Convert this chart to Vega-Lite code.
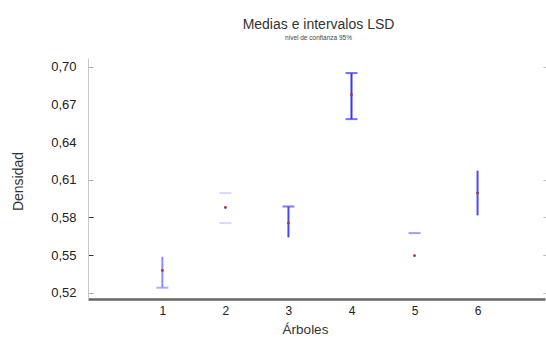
{
  "$schema": "https://vega.github.io/schema/vega-lite/v6.json",
  "autosize": "none",
  "width": 457,
  "height": 241,
  "padding": {"left": 88, "top": 58, "right": 1, "bottom": 43},
  "background": "white",
  "title": {
    "text": "Medias e intervalos LSD",
    "subtitle": "nivel de confianza 95%",
    "anchor": "middle",
    "dx": 2,
    "font": "Liberation Sans",
    "fontSize": 14,
    "fontWeight": "normal",
    "color": "#333333",
    "subtitleFont": "Liberation Sans",
    "subtitleFontSize": 6.5,
    "subtitleColor": "#444444",
    "subtitlePadding": 3,
    "offset": 17
  },
  "datasets": {
    "segmentos": [
      {"arbol": 1, "inferior": 0.524, "superior": 0.5487},
      {"arbol": 3, "inferior": 0.5641, "superior": 0.5887},
      {"arbol": 4, "inferior": 0.6583, "superior": 0.695},
      {"arbol": 6, "inferior": 0.5816, "superior": 0.6172}
    ],
    "tapas": [
      {"arbol": 1, "valor": 0.524},
      {"arbol": 2, "valor": 0.5994},
      {"arbol": 2, "valor": 0.5755},
      {"arbol": 3, "valor": 0.5887},
      {"arbol": 4, "valor": 0.695},
      {"arbol": 4, "valor": 0.6583},
      {"arbol": 5, "valor": 0.5675}
    ],
    "medias": [
      {"arbol": 1, "media": 0.5378},
      {"arbol": 2, "media": 0.5879},
      {"arbol": 3, "media": 0.5755},
      {"arbol": 4, "media": 0.6777},
      {"arbol": 5, "media": 0.5495},
      {"arbol": 6, "media": 0.5994}
    ]
  },
  "layer": [
    {
      "data": {"name": "segmentos"},
      "mark": {"type": "rule", "strokeWidth": 2},
      "encoding": {
        "x": {
          "field": "arbol", "type": "quantitative",
          "scale": {"domain": [-0.18, 7.07], "nice": false, "zero": false},
          "axis": {
            "title": "Árboles", "values": [1, 2, 3, 4, 5, 6], "format": "d",
            "grid": false, "ticks": false,
            "domainColor": "#666666", "domainWidth": 2.5,
            "labelFont": "Liberation Sans", "labelFontSize": 12, "labelColor": "#222222",
            "labelPadding": 6,
            "titleFont": "Liberation Sans", "titleFontSize": 13.5, "titleFontWeight": "normal",
            "titleColor": "#333333", "titlePadding": 6, "titleX": 217
          }
        },
        "y": {
          "field": "inferior", "type": "quantitative",
          "scale": {"domain": [0.515, 0.707], "nice": false, "zero": false},
          "axis": {
            "title": "Densidad", "values": [0.52, 0.55, 0.58, 0.61, 0.64, 0.67, 0.70],
            "labelExpr": "replace(format(datum.value, '.2f'), '.', ',')",
            "grid": false,
            "domainColor": "#c8c8c8", "domainWidth": 1,
            "tickColor": {"condition": {"test": "datum.value == 0.58 || datum.value == 0.55", "value": "#333333"}, "value": "#aaaaaa"},
            "tickOpacity": {"condition": {"test": "datum.value == 0.64 || datum.value == 0.67", "value": 0}, "value": 1},
            "tickSize": -5,
            "labelFont": "Liberation Sans", "labelFontSize": 13, "labelColor": "#222222",
            "labelPadding": 17,
            "titleFont": "Liberation Sans", "titleFontSize": 14, "titleFontWeight": "normal",
            "titleColor": "#333333", "titleX": -70, "titleY": 123,
            "titleAngle": -90, "titleAlign": "center", "titleBaseline": "middle"
          }
        },
        "y2": {"field": "superior"},
        "color": {
          "field": "arbol", "type": "nominal",
          "scale": {"domain": [1, 2, 3, 4, 5, 6], "range": ["#8c8cff", "#c8c8ff", "#4646ff", "#3535ff", "#7575ff", "#4a4aff"]},
          "legend": null
        }
      }
    },
    {
      "data": {"name": "tapas"},
      "mark": {"type": "tick", "orient": "horizontal", "size": 12, "thickness": 2},
      "encoding": {
        "x": {"field": "arbol", "type": "quantitative"},
        "y": {
          "field": "valor", "type": "quantitative",
          "axis": {
            "orient": "right", "values": [0.52, 0.55, 0.58, 0.61, 0.70],
            "labels": false, "domain": false, "grid": false, "title": null,
            "tickColor": "#aaaaaa", "tickSize": -2
          }
        },
        "color": {"field": "arbol", "type": "nominal", "legend": null}
      }
    },
    {
      "data": {"name": "medias"},
      "mark": {"type": "point", "filled": true, "size": 8, "color": "#b03040", "opacity": 1},
      "encoding": {
        "x": {"field": "arbol", "type": "quantitative"},
        "y": {"field": "media", "type": "quantitative", "axis": null}
      }
    }
  ],
  "resolve": {"axis": {"y": "independent"}},
  "config": {"view": {"stroke": null}}
}
